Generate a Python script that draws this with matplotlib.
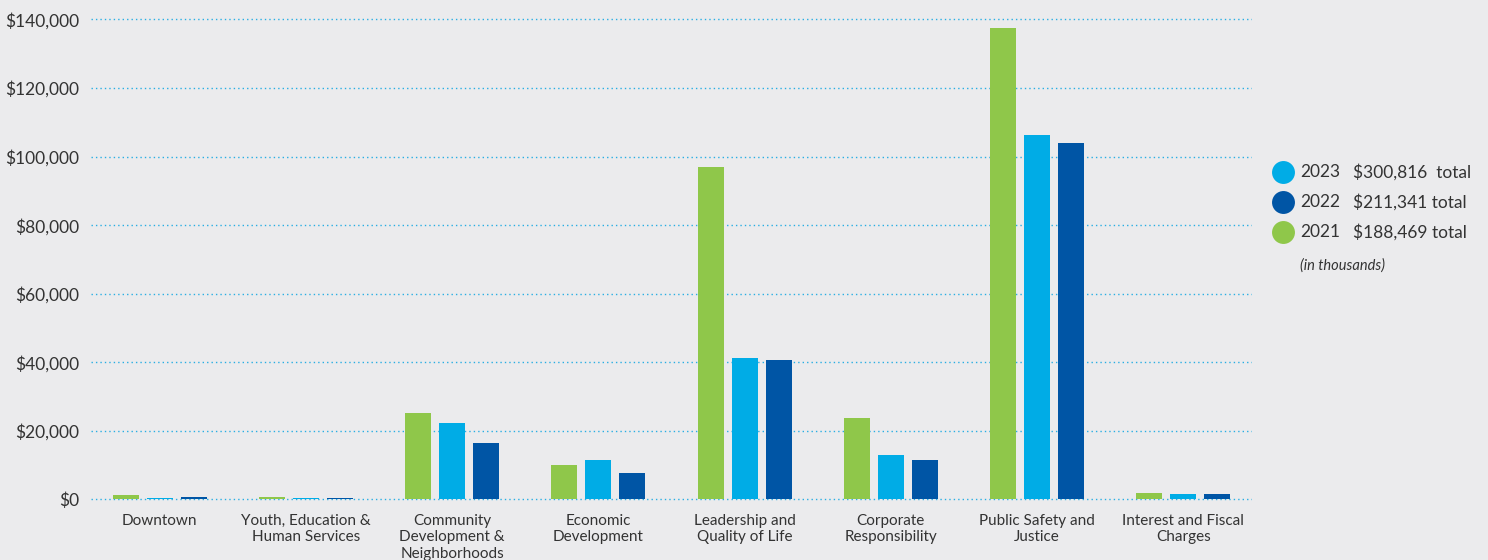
import matplotlib
matplotlib.use("Agg")
import matplotlib.pyplot as plt
import numpy as np
from matplotlib.lines import Line2D

categories = ["Downtown", "Youth, Education &\nHuman Services",
              "Community\nDevelopment &\nNeighborhoods", "Economic\nDevelopment",
              "Leadership and\nQuality of Life", "Corporate\nResponsibility",
              "Public Safety and\nJustice", "Interest and Fiscal\nCharges"]
green_vals = [1250, 700, 25200, 10100, 97000, 23800, 137500, 1900]
light_vals = [400, 400, 22300, 11500, 41300, 13000, 106300, 1600]
dark_vals = [700, 400, 16500, 7700, 40700, 11500, 104000, 1600]

legend_years = ["2023", "2022", "2021"]
legend_totals = ["$300,816  total", "$211,341 total", "$188,469 total"]
yticks = [0, 20000, 40000, 60000, 80000, 100000, 120000, 140000]

GREEN = "#8fc74a"
LIGHT = "#00ace6"
DARK = "#0055a5"
BG = "#ebebed"
TXT = "#333333"
GRID = "#29aee3"

plt.rcParams['font.family'] = ['Lato', 'DejaVu Sans']

fig = plt.figure(figsize=(14.88, 5.6), dpi=100, facecolor=BG)
ax = fig.add_axes([91/1488, 1-502.9/560, (1252-91)/1488, (502.9-16.07)/560])
ax.set_facecolor(BG)

x = np.arange(len(categories))
w = 0.178
off = 0.233
ax.bar(x - off, green_vals, w, color=GREEN, zorder=3)
ax.bar(x, light_vals, w, color=LIGHT, zorder=3)
ax.bar(x + off, dark_vals, w, color=DARK, zorder=3)

ax.set_xlim(-0.47, len(categories) - 1 + 0.47)
ax.set_ylim(-1000, 141000)
ax.set_yticks(yticks)
ax.set_yticklabels([f"${v:,}" for v in yticks], fontsize=12.5, color=TXT)
ax.set_xticks(x)
ax.set_xticklabels(categories, fontsize=11, color=TXT, va="top", linespacing=1.22)
ax.tick_params(axis="y", length=0, pad=8.6)
ax.tick_params(axis="x", length=0, pad=8.0)
for s in ax.spines.values():
    s.set_visible(False)
ax.grid(axis="y", color=GRID, linestyle=(0, (1, 2.2)), linewidth=1.0, zorder=0)

# legend
lx = 1283 / 1488
ys = [172, 202, 232]
colors = [LIGHT, DARK, GREEN]
for yr, tot, c, yp in zip(legend_years, legend_totals, colors, ys):
    yf = 1 - yp / 560
    fig.add_artist(Line2D([lx], [yf], marker="o", markersize=16.5, color=c,
                          markeredgewidth=0, transform=fig.transFigure))
    fig.text(1300/1488, yf, yr, fontsize=12.5, color=TXT, va="center", ha="left")
    fig.text(1353/1488, yf, tot, fontsize=12.5, color=TXT, va="center", ha="left")
fig.text(1300/1488, 1 - 266/560, "(in thousands)", fontsize=10.5, style="italic",
         color=TXT, va="center", ha="left")

fig.savefig("out.png", dpi=100, facecolor=BG)
